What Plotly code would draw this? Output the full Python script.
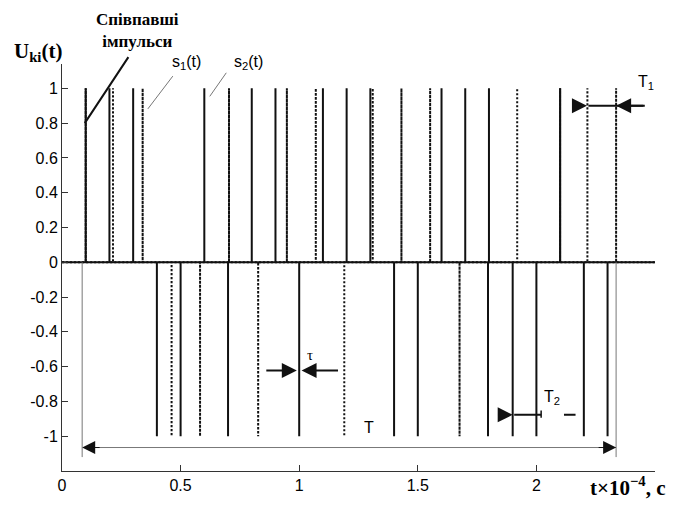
import plotly.graph_objects as go

# ---- data (t in units of 1e-4 s) ----
s2_times = [0.1, 0.2, 0.3, 0.4, 0.5, 0.6, 0.7, 0.8, 0.9, 1.0, 1.1, 1.2,
            1.3, 1.4, 1.5, 1.6, 1.7, 1.8, 1.9, 2.0, 2.1, 2.2, 2.3]
s2_values = [1, 1, 1, -1, -1, 1, -1, 1, 1, -1, 1, 1,
             1, -1, -1, 1, 1, 1, -1, -1, 1, -1, -1]

s1_times = [0.1, 0.215, 0.34, 0.462, 0.582, 0.704, 0.827, 0.948, 1.07, 1.19,
            1.31, 1.431, 1.552, 1.676, 1.796, 1.919, 2.10, 2.215, 2.336]
s1_values = [1, 1, 1, -1, -1, 1, -1, 1, 1, -1,
             1, 1, 1, -1, -1, 1, 1, 1, 1]

x_tickvals = [0, 0.5, 1, 1.5, 2]
x_ticktext = ["0", "0.5", "1", "1.5", "2"]
y_tickvals = [-1, -0.8, -0.6, -0.4, -0.2, 0, 0.2, 0.4, 0.6, 0.8, 1]
y_ticktext = ["-1", "-0.8", "-0.6", "-0.4", "-0.2", "0", "0.2", "0.4", "0.6", "0.8", "1"]

X_RANGE = [0, 2.5]
Y_RANGE = [-1.2, 1.14]

# annotation anchors (data coords)
T_start, T_end, T_level = 0.085, 2.336, -1.065
T1_left, T1_right, T1_level = 2.213, 2.336, 0.9
T2_left, T2_right, T2_level = 1.9, 2.02, -0.877
tau_pos, tau_level = 1.0, -0.622


def waveform(times, values):
    xs, ys = [X_RANGE[0]], [0]
    for t, v in zip(times, values):
        xs += [t, t, t]
        ys += [0, v, 0]
    xs.append(X_RANGE[1])
    ys.append(0)
    return xs, ys


def d2p(x, y):
    """data -> paper (plot-area fraction) coords, allowed outside [0,1]"""
    return ((x - X_RANGE[0]) / (X_RANGE[1] - X_RANGE[0]),
            (y - Y_RANGE[0]) / (Y_RANGE[1] - Y_RANGE[0]))


fig = go.Figure()
x1, y1 = waveform(s1_times, s1_values)
x2, y2 = waveform(s2_times, s2_values)
fig.add_trace(go.Scatter(x=x1, y=y1, mode="lines", name="s1(t)",
                         line=dict(color="#111", width=2, dash="2px,2px"),
                         hoverinfo="skip"))
fig.add_trace(go.Scatter(x=x2, y=y2, mode="lines", name="s2(t)",
                         line=dict(color="#111", width=2),
                         hoverinfo="skip"))

ann = []
shapes = []
BLACK = "#111"
GRAY = "#777"


def line_ann(x0, y0, x1_, y1_, color, width):
    ann.append(dict(x=x1_, y=y1_, ax=x0, ay=y0, xref="x", yref="y",
                    axref="x", ayref="y", text="", showarrow=True,
                    arrowhead=0, arrowwidth=width, arrowcolor=color))


def arrow_ann(x0, y0, x1_, y1_, color, width, size=1.0, head=2):
    ann.append(dict(x=x1_, y=y1_, ax=x0, ay=y0, xref="x", yref="y",
                    axref="x", ayref="y", text="", showarrow=True,
                    arrowhead=head, arrowsize=size, arrowwidth=width,
                    arrowcolor=color))


def text_ann(x, y, txt, size=15, family="Liberation Sans", bold=False,
             xanchor="center"):
    if bold:
        txt = "<b>" + txt + "</b>"
    px, py = d2p(x, y)
    ann.append(dict(x=px, y=py, xref="paper", yref="paper", text=txt,
                    showarrow=False, xanchor=xanchor, yanchor="middle",
                    font=dict(family=family, size=size, color="#000")))


# T boundaries + double arrow
shapes.append(dict(type="line", xref="x", yref="y", x0=T_start, x1=T_start,
                   y0=0, y1=-1.12, line=dict(color=GRAY, width=1)))
shapes.append(dict(type="line", xref="x", yref="y", x0=T_end, x1=T_end,
                   y0=0, y1=-1.12, line=dict(color=GRAY, width=1)))
line_ann(T_start, T_level, T_end, T_level, GRAY, 1)
arrow_ann(T_start + 0.08, T_level, T_start, T_level, BLACK, 1, 2.6)
arrow_ann(T_end - 0.08, T_level, T_end, T_level, BLACK, 1, 2.6)
text_ann(1.295, -0.95, "T", size=16)

# T1
line_ann(T1_left, T1_level, 2.457, T1_level, BLACK, 2)
arrow_ann(2.165, T1_level, T1_left, T1_level, BLACK, 2, 1.5)
arrow_ann(2.457, T1_level, T1_right, T1_level, BLACK, 2, 1.5)
text_ann(2.46, 1.035, "T<sub>1</sub>", size=16)

# T2
line_ann(T2_left, T2_level, T2_right, T2_level, BLACK, 2)
arrow_ann(1.84, T2_level, T2_left, T2_level, BLACK, 2, 1.5)
line_ann(T2_right, T2_level - 0.025, T2_right, T2_level + 0.025, BLACK, 1.5)
line_ann(2.11, T2_level, 2.165, T2_level, BLACK, 2)
text_ann(2.065, -0.78, "T<sub>2</sub>", size=16)

# tau
arrow_ann(0.855, tau_level, tau_pos - 0.01, tau_level, BLACK, 2, 1.5)
arrow_ann(1.17, tau_level, tau_pos + 0.01, tau_level, BLACK, 2, 1.5)
text_ann(1.045, -0.535, "τ", size=15, family="Liberation Serif")

# s1 / s2 labels with leader lines
text_ann(0.525, 1.15, "s<sub>1</sub>(t)", size=16)
line_ann(0.472, 1.079, 0.362, 0.882, GRAY, 1)
text_ann(0.785, 1.15, "s<sub>2</sub>(t)", size=16)
line_ann(0.697, 1.098, 0.623, 0.954, GRAY, 1)

# coincident pulses label
text_ann(0.135, 1.33, "Співпавші<br>імпульси", size=17,
         family="Liberation Serif", bold=True, xanchor="left")
line_ann(0.284, 1.188, 0.096, 0.8, BLACK, 2)

# axis titles
text_ann(-0.10, 1.21, "U<sub>ki</sub>(t)", size=21, family="Liberation Serif",
         bold=True)
px, py = d2p(2.555, -1.29)
ann.append(dict(x=px, y=py, xref="paper", yref="paper",
                text="<b>t×10<sup>−4</sup>, c</b>", showarrow=False,
                xanchor="right", yanchor="middle",
                font=dict(family="Liberation Serif", size=21, color="#000")))

# page body has an 8px margin: figure origin sits at (8, 8) of the window
fig.update_layout(
    width=670, height=497,
    margin=dict(l=54, r=23, t=56, b=34),
    paper_bgcolor="white", plot_bgcolor="white",
    showlegend=False,
    annotations=ann, shapes=shapes,
    font=dict(family="Liberation Sans", size=16, color="#000"),
)
fig.update_xaxes(range=X_RANGE, tickvals=x_tickvals, ticktext=x_ticktext,
                 showgrid=False, zeroline=False, showline=True,
                 linecolor="#333", linewidth=1, ticks="inside", ticklen=6,
                 tickcolor="#333", tickfont=dict(size=16))
fig.update_yaxes(range=Y_RANGE, tickvals=y_tickvals, ticktext=y_ticktext,
                 showgrid=False, zeroline=False, showline=True,
                 linecolor="#333", linewidth=1, ticks="inside", ticklen=6,
                 tickcolor="#333", tickfont=dict(size=16))

fig.write_html("out.html")
